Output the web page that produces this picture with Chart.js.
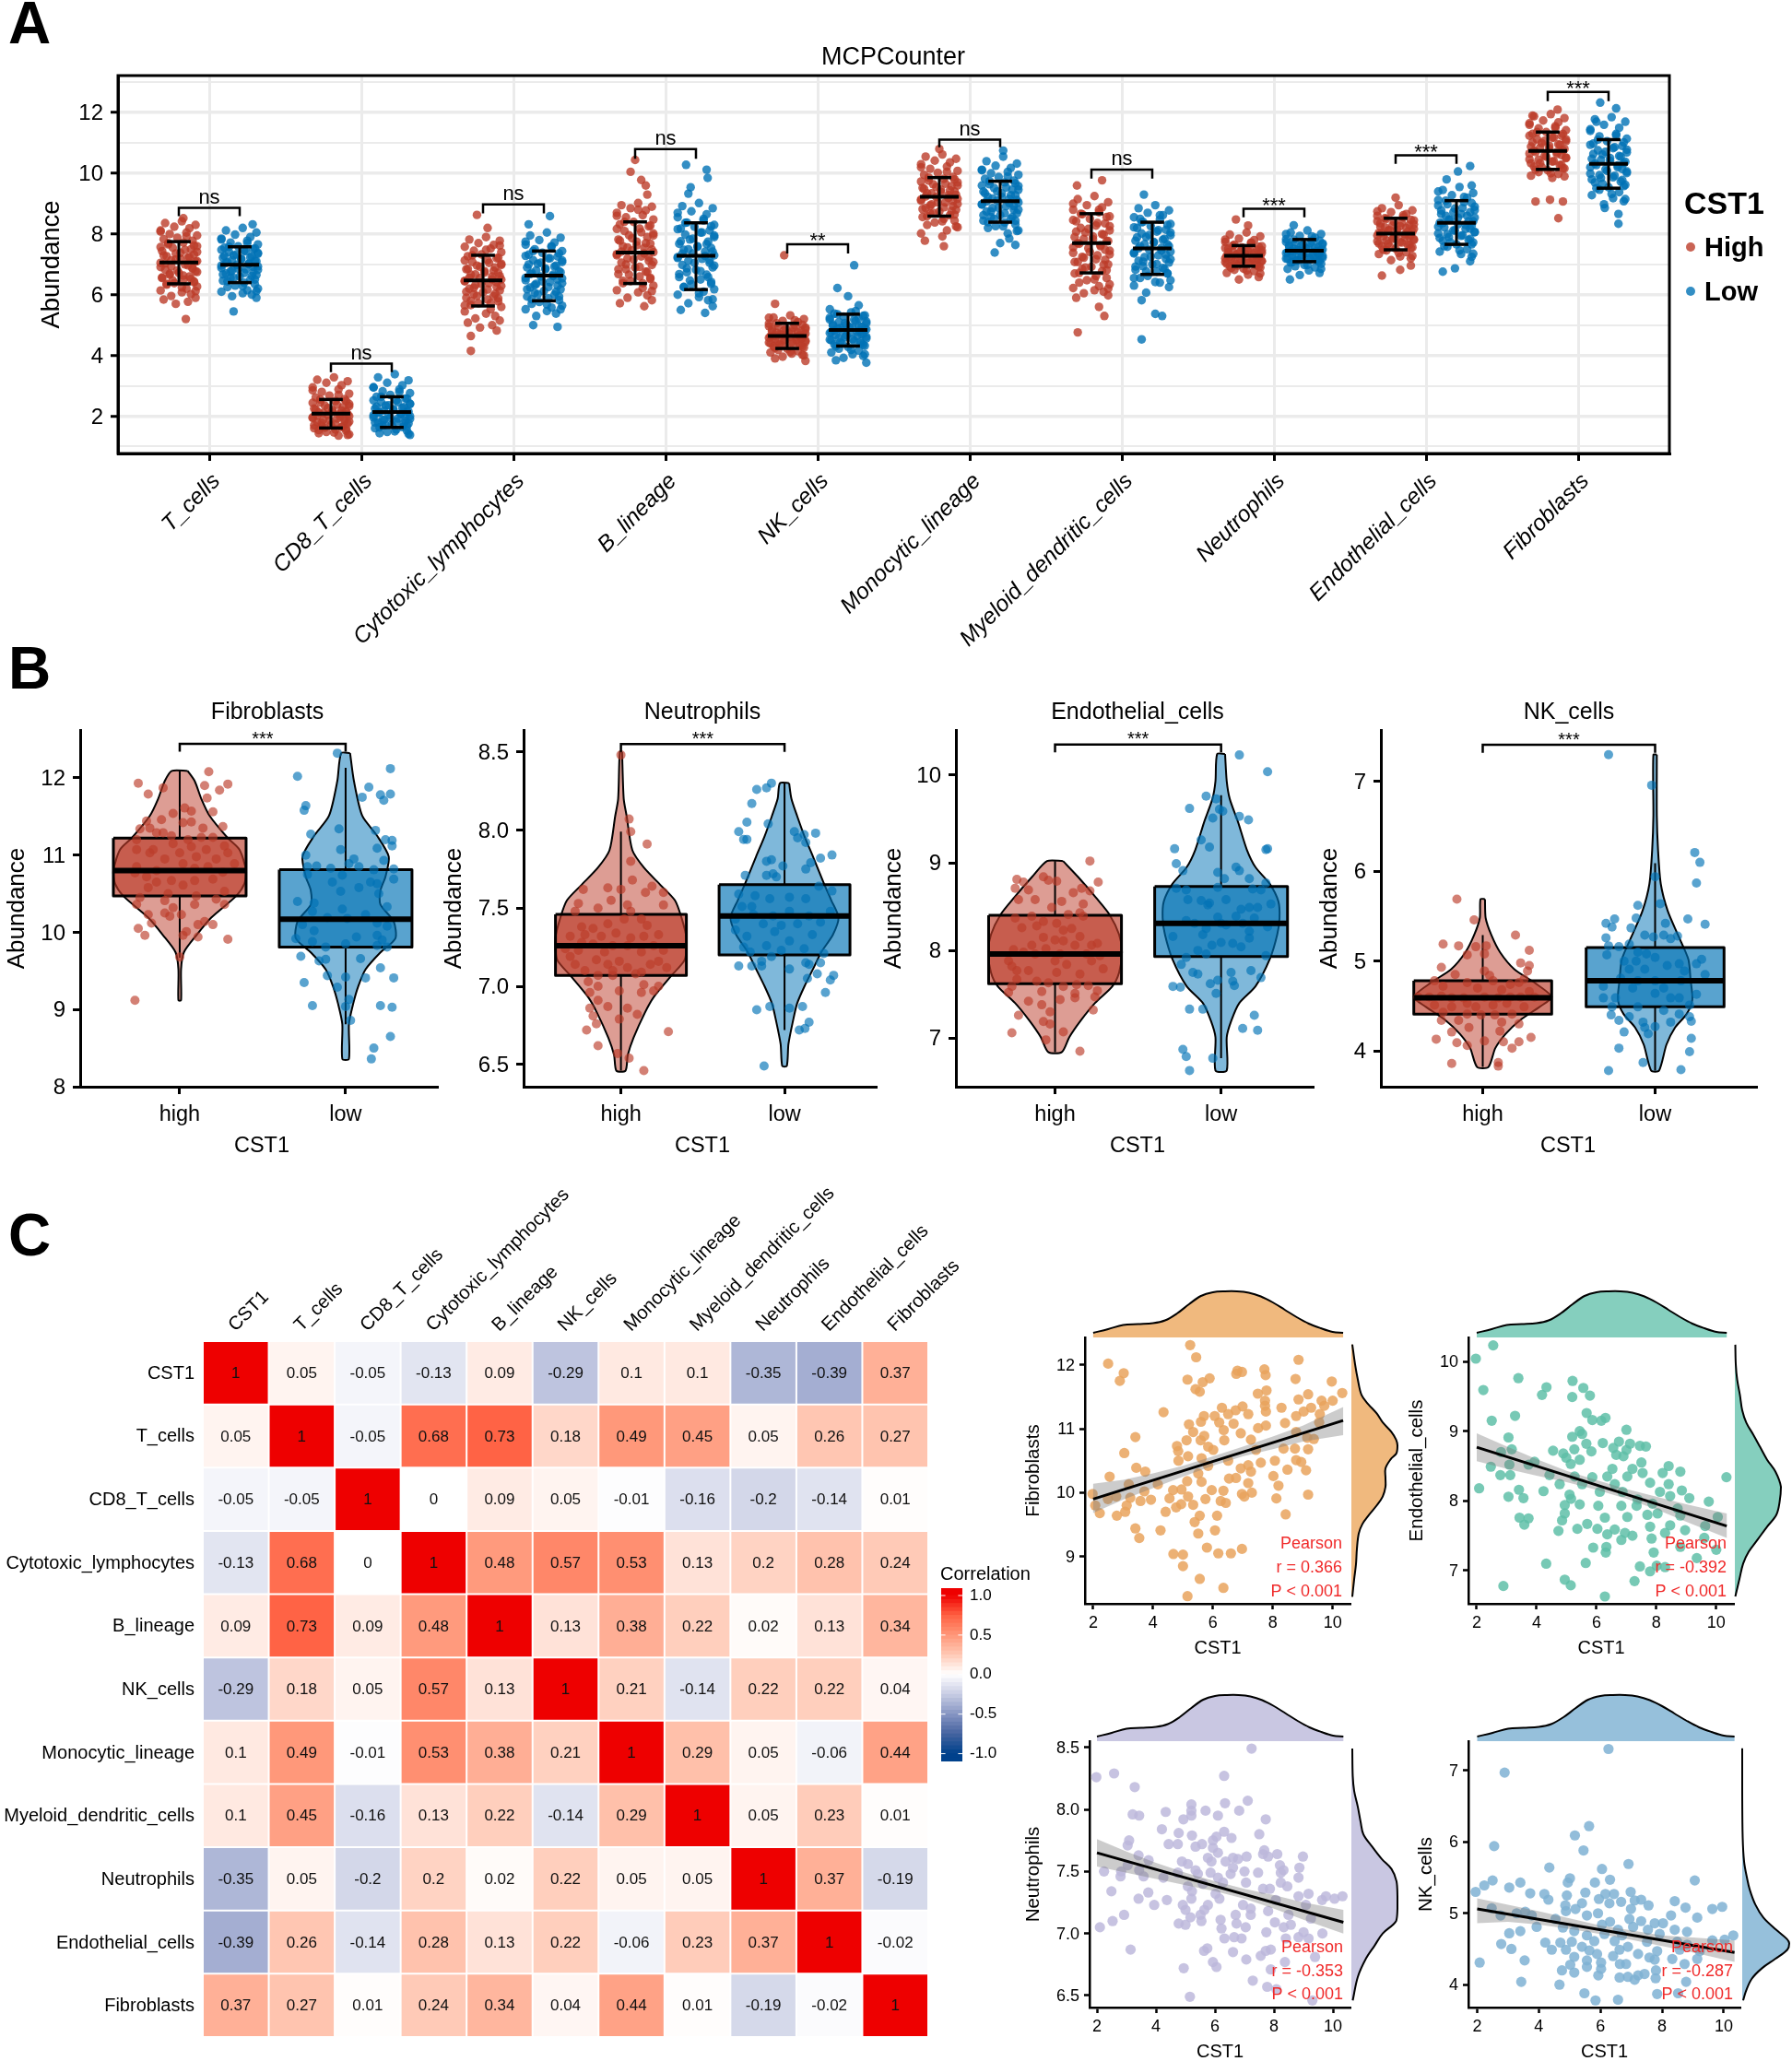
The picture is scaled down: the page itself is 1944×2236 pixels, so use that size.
<!DOCTYPE html>
<html><head><meta charset="utf-8">
<script src="https://cdn.jsdelivr.net/npm/chart.js@4/dist/chart.umd.js"></script>
<style>html,body{margin:0;background:#fff}#page{position:relative;width:1944px;height:2236px;overflow:hidden;background:#fff}
canvas{position:absolute;display:block}.tag{position:absolute;font:bold 64px "Liberation Sans",Arial,sans-serif;line-height:64px;color:#000}</style>
</head><body><div id="page"><div class="tag" style="left:9px;top:-7px">A</div><div class="tag" style="left:9px;top:693px">B</div><div class="tag" style="left:9px;top:1308px">C</div></div>
<script>
/* ---------- Panel A ---------- */
const cellTypes=['T_cells','CD8_T_cells','Cytotoxic_lymphocytes','B_lineage','NK_cells','Monocytic_lineage','Myeloid_dendritic_cells','Neutrophils','Endothelial_cells','Fibroblasts'];
const aHighMean=[7.06,2.08,6.47,7.39,4.64,9.23,7.70,7.28,8.01,10.74];
const aHighUpper=[7.75,2.55,7.30,8.40,5.06,9.86,8.67,7.62,8.52,11.36];
const aHighLower=[6.36,1.61,5.63,6.37,4.23,8.59,6.72,6.94,7.48,10.13];
const aLowMean=[6.99,2.14,6.63,7.28,4.84,9.08,7.53,7.45,8.37,10.31];
const aLowUpper=[7.58,2.64,7.44,8.37,5.36,9.74,8.39,7.82,9.10,11.11];
const aLowLower=[6.40,1.63,5.80,6.17,4.31,8.39,6.67,7.09,7.66,9.51];
const aBracketTop=[8.86,3.73,8.98,10.80,7.66,11.11,10.12,8.83,10.59,12.68];
const aBracketLeg=[8.59,3.45,8.68,10.48,7.36,10.86,9.83,8.55,10.31,12.38];
const aSig=['ns','ns','ns','ns','**','ns','ns','***','***','***'];
const aJitter=[.02,-.09,.11,-.03,.07,-.12,.05,-.06,.12,-.01,-.1,.09,.03,-.07,.12,-.04,.08,-.11,.01,.1,-.08,.06,-.02,.12,-.12,.04,-.05,.09,-.09,.11,0,-.06,.07,-.11,.03,.1,-.03,-.08,.12,.05,-.12,.02,.08,-.05,.11,-.1,.06,-.02,.09,-.07,.04,-.12,.1];
const aJitter2=[-.07,.1,-.12,.04,.12,-.02,-.1,.07,.01,-.05,.11,-.09,.06,-.12,.09,-.01,.12,-.06,.03,-.11,.08,-.04,.1,-.08,.05,-.12,.02,.11,-.03];
const aHighCore=[
[8.42,8.36,8.3,8.24,8.19,8.12,8.05,8,7.95,7.88,7.83,7.78,7.72,7.66,7.6,7.55,7.5,7.44,7.38,7.33,7.27,7.22,7.16,7.11,7.05,7,6.94,6.88,6.83,6.77,6.72,6.66,6.6,6.55,6.5,6.44,6.38,6.33,6.27,6.2,6.14,6.08,6.02,5.96,5.9,5.84,5.77,5.7],
[3.28,3.2,3.15,3.1,3.02,2.95,2.88,2.8,2.74,2.68,2.62,2.56,2.5,2.45,2.4,2.35,2.3,2.25,2.2,2.16,2.12,2.08,2.04,2,1.96,1.92,1.88,1.84,1.8,1.76,1.72,1.68,1.64,1.6,1.56,1.52,1.48,1.44,1.4,1.36],
[7.9,7.82,7.78,7.7,7.64,7.58,7.52,7.45,7.4,7.33,7.27,7.2,7.14,7.08,7.02,6.96,6.9,6.84,6.78,6.72,6.66,6.6,6.55,6.5,6.44,6.38,6.32,6.26,6.2,6.14,6.08,6.02,5.96,5.9,5.84,5.78,5.72,5.66,5.6,5.52,5.45,5.38,5.3,5.22,5.15,5.08,5,4.92,4.82],
[9.02,8.95,8.9,8.85,8.78,8.7,8.62,8.55,8.48,8.4,8.32,8.25,8.18,8.1,8.02,7.96,7.9,7.82,7.75,7.68,7.6,7.54,7.46,7.4,7.34,7.26,7.2,7.12,7.06,6.98,6.9,6.84,6.76,6.68,6.6,6.52,6.45,6.38,6.3,6.22,6.15,6.08,5.98,5.9,5.82,5.72,5.62],
[5.32,5.25,5.2,5.14,5.1,5.05,5,4.96,4.92,4.88,4.85,4.82,4.78,4.75,4.72,4.69,4.66,4.63,4.6,4.57,4.54,4.51,4.48,4.45,4.42,4.39,4.36,4.33,4.3,4.26,4.22,4.18,4.14,4.1,4.06,4.02,3.96,3.9,3.82],
[10.62,10.55,10.48,10.42,10.36,10.3,10.22,10.15,10.08,10.02,9.95,9.88,9.82,9.76,9.7,9.64,9.58,9.52,9.46,9.4,9.34,9.28,9.22,9.16,9.1,9.04,8.98,8.92,8.86,8.8,8.74,8.68,8.62,8.56,8.5,8.44,8.38,8.3,8.22,8.12,8.02,7.92],
[9.25,9.15,9.05,8.95,8.88,8.8,8.72,8.65,8.58,8.5,8.42,8.35,8.28,8.2,8.12,8.05,7.98,7.9,7.83,7.76,7.68,7.6,7.53,7.45,7.38,7.3,7.22,7.15,7.08,7,6.92,6.85,6.78,6.7,6.62,6.55,6.48,6.4,6.34,6.28,6.22,6.15,6.1,6.05,5.98,5.9],
[8.05,7.98,7.92,7.85,7.8,7.74,7.7,7.65,7.6,7.56,7.52,7.48,7.44,7.41,7.38,7.35,7.32,7.29,7.26,7.23,7.2,7.17,7.14,7.11,7.08,7.05,7.02,6.98,6.94,6.9,6.86,6.82,6.78,6.72,6.66,6.58,6.5],
[8.95,8.85,8.78,8.72,8.66,8.6,8.55,8.5,8.45,8.4,8.35,8.3,8.26,8.22,8.17,8.13,8.08,8.04,8,7.96,7.92,7.88,7.84,7.8,7.76,7.72,7.68,7.64,7.6,7.56,7.52,7.46,7.4,7.34,7.26,7.2,7.14],
[11.95,11.88,11.82,11.74,11.68,11.6,11.55,11.48,11.42,11.36,11.3,11.24,11.18,11.12,11.06,11,10.94,10.88,10.82,10.76,10.7,10.64,10.58,10.52,10.46,10.4,10.34,10.28,10.22,10.16,10.1,10.04,9.98,9.92,9.85]];
const aHighDense=[
[7.7,7.62,7.57,7.48,7.41,7.36,7.3,7.24,7.19,7.13,7.09,7.03,6.97,6.91,6.86,6.8,6.75,6.69,6.63,6.57,6.52,6.47,6.41,6.36,7.92,8.08,6.24,6.12],
[2.55,2.5,2.44,2.38,2.33,2.27,2.22,2.18,2.14,2.1,2.06,2.02,1.98,1.94,1.9,1.86,1.82,1.78,1.74,1.7,1.66,1.62,1.58,1.54,2.7,2.85,1.46,1.38],
[7.3,7.22,7.13,7.05,6.98,6.92,6.85,6.79,6.73,6.67,6.61,6.56,6.51,6.46,6.41,6.35,6.29,6.23,6.17,6.1,6.03,5.96,5.88,5.8,5.72,5.65,7.48,7.62],
[8.4,8.28,8.17,8.06,7.95,7.86,7.78,7.7,7.63,7.56,7.49,7.42,7.36,7.3,7.23,7.16,7.08,7,6.92,6.84,6.75,6.66,6.56,6.46,6.38,8.6,8.8,6.12],
[5.06,5.01,4.96,4.91,4.87,4.83,4.79,4.76,4.73,4.7,4.67,4.64,4.61,4.58,4.55,4.52,4.49,4.46,4.43,4.4,4.37,4.33,4.29,4.25,5.16,5.24,4.12,4],
[9.86,9.8,9.73,9.66,9.6,9.55,9.49,9.44,9.39,9.34,9.29,9.24,9.19,9.14,9.09,9.04,8.99,8.94,8.88,8.82,8.76,8.7,8.64,8.59,10.05,10.2,8.42,8.25],
[8.67,8.56,8.46,8.36,8.26,8.17,8.08,8,7.92,7.84,7.77,7.7,7.63,7.56,7.48,7.41,7.33,7.25,7.17,7.08,6.99,6.9,6.81,6.72,8.8,9,6.5,6.2],
[7.62,7.58,7.54,7.5,7.46,7.43,7.4,7.37,7.34,7.31,7.28,7.25,7.22,7.2,7.17,7.14,7.11,7.08,7.05,7.02,6.99,6.96,6.93,6.88,7.72,7.82,6.8,6.7],
[8.52,8.47,8.42,8.37,8.32,8.28,8.24,8.2,8.15,8.11,8.07,8.03,7.99,7.95,7.91,7.87,7.83,7.79,7.74,7.69,7.64,7.59,7.54,7.48,8.62,8.75,7.38,7.28],
[11.36,11.3,11.24,11.18,11.12,11.07,11.02,10.96,10.91,10.85,10.8,10.75,10.7,10.65,10.6,10.55,10.5,10.45,10.39,10.33,10.27,10.21,10.16,10.12,11.5,11.65,10,9.9]];
const aLowCore=[
[8.2,8.12,8.05,7.98,7.9,7.85,7.78,7.72,7.66,7.6,7.55,7.5,7.45,7.4,7.35,7.3,7.26,7.22,7.17,7.12,7.07,7.03,6.98,6.93,6.88,6.84,6.8,6.75,6.7,6.65,6.6,6.55,6.5,6.46,6.4,6.35,6.3,6.25,6.2,6.15,6.1,6.05,6,5.95,5.9],
[3.38,3.28,3.18,3.1,3.02,2.95,2.88,2.82,2.76,2.7,2.64,2.58,2.52,2.46,2.4,2.35,2.3,2.25,2.2,2.16,2.12,2.08,2.04,2,1.96,1.92,1.88,1.84,1.8,1.76,1.72,1.68,1.64,1.6,1.56,1.52,1.48,1.44,1.38],
[8.05,7.95,7.88,7.8,7.72,7.65,7.58,7.5,7.44,7.38,7.32,7.26,7.2,7.14,7.08,7.02,6.96,6.9,6.84,6.78,6.72,6.66,6.6,6.54,6.48,6.42,6.36,6.3,6.24,6.18,6.12,6.06,6,5.94,5.88,5.82,5.76,5.7,5.64,5.58,5.52,5.46,5.38,5.3],
[9.02,8.92,8.85,8.75,8.65,8.55,8.45,8.38,8.3,8.24,8.18,8.12,8.05,7.98,7.9,7.82,7.75,7.68,7.6,7.54,7.48,7.42,7.36,7.3,7.24,7.18,7.12,7.05,6.98,6.9,6.82,6.74,6.66,6.58,6.5,6.42,6.34,6.26,6.18,6.1,6,5.92,5.82,5.72,5.62,5.5,5.4],
[5.42,5.38,5.32,5.28,5.22,5.18,5.14,5.1,5.06,5.02,4.98,4.95,4.92,4.89,4.86,4.83,4.8,4.77,4.74,4.71,4.68,4.64,4.6,4.56,4.52,4.48,4.44,4.4,4.36,4.32,4.28,4.22,4.16,4.1,4.04,3.98,3.92,3.84,3.76],
[10.55,10.4,10.32,10.25,10.18,10.12,10.05,10,9.95,9.88,9.82,9.76,9.7,9.64,9.58,9.52,9.46,9.4,9.34,9.28,9.22,9.16,9.1,9.04,8.98,8.92,8.86,8.8,8.74,8.68,8.62,8.56,8.5,8.44,8.38,8.32,8.26,8.2,8.12,8.02],
[8.95,8.85,8.78,8.7,8.62,8.55,8.48,8.4,8.33,8.26,8.2,8.14,8.08,8.02,7.96,7.9,7.84,7.78,7.72,7.66,7.6,7.54,7.48,7.42,7.36,7.3,7.24,7.18,7.12,7.06,7,6.94,6.88,6.82,6.76,6.7,6.62,6.55,6.48,6.4,6.3],
[8.12,8.05,8,7.94,7.88,7.83,7.78,7.73,7.69,7.65,7.62,7.58,7.55,7.52,7.49,7.46,7.43,7.4,7.37,7.34,7.31,7.28,7.25,7.22,7.19,7.16,7.13,7.1,7.06,7.02,6.98,6.94,6.9,6.85,6.8,6.72,6.65],
[9.55,9.45,9.35,9.28,9.2,9.12,9.05,8.98,8.9,8.84,8.78,8.72,8.66,8.6,8.54,8.48,8.42,8.37,8.32,8.27,8.22,8.17,8.12,8.07,8.02,7.96,7.9,7.84,7.78,7.72,7.66,7.58,7.5,7.42,7.34,7.25],
[11.85,11.78,11.7,11.6,11.5,11.4,11.3,11.22,11.14,11.06,10.98,10.9,10.83,10.76,10.69,10.62,10.55,10.48,10.41,10.34,10.27,10.2,10.13,10.06,9.99,9.92,9.85,9.78,9.7,9.62,9.54,9.46,9.38,9.28,9.18,9.08,8.98]];
const aLowDense=[
[7.58,7.53,7.48,7.43,7.38,7.33,7.28,7.23,7.19,7.14,7.1,7.05,7.01,6.96,6.91,6.86,6.82,6.77,6.72,6.67,6.62,6.56,6.5,6.44,7.7,7.82,6.28,6.12],
[2.64,2.58,2.52,2.46,2.41,2.36,2.31,2.27,2.23,2.19,2.15,2.11,2.07,2.03,1.99,1.95,1.91,1.87,1.83,1.79,1.75,1.71,1.67,1.63,2.8,2.95,1.5,1.42],
[7.44,7.36,7.28,7.2,7.13,7.06,7,6.93,6.87,6.8,6.74,6.68,6.62,6.56,6.5,6.44,6.38,6.32,6.25,6.18,6.1,6.02,5.94,5.85,7.6,7.75,5.68,5.52],
[8.37,8.26,8.16,8.05,7.95,7.85,7.76,7.67,7.58,7.5,7.42,7.35,7.28,7.21,7.13,7.05,6.96,6.87,6.78,6.68,6.58,6.47,6.36,6.25,8.5,8.7,6.05,5.85],
[5.36,5.3,5.24,5.18,5.12,5.07,5.02,4.98,4.94,4.9,4.86,4.82,4.78,4.74,4.7,4.66,4.62,4.58,4.54,4.5,4.45,4.4,4.35,4.3,5.46,5.52,4.18,4.04],
[9.74,9.67,9.6,9.53,9.46,9.4,9.34,9.28,9.22,9.17,9.12,9.07,9.02,8.97,8.92,8.86,8.8,8.74,8.68,8.62,8.56,8.5,8.44,8.39,9.9,10.1,8.25,8.1],
[8.39,8.3,8.22,8.13,8.05,7.97,7.89,7.81,7.74,7.67,7.6,7.53,7.46,7.39,7.32,7.25,7.17,7.09,7.01,6.93,6.85,6.77,6.7,8.5,8.62,6.55,6.42,6.25],
[7.82,7.78,7.74,7.7,7.66,7.62,7.58,7.55,7.52,7.49,7.46,7.43,7.4,7.37,7.34,7.31,7.28,7.25,7.22,7.19,7.16,7.13,7.1,7.07,7.92,8,6.98,6.85],
[9.1,9.02,8.94,8.86,8.79,8.72,8.66,8.6,8.54,8.48,8.42,8.36,8.3,8.24,8.18,8.12,8.06,8,7.94,7.87,7.8,7.73,7.66,7.6,9.22,9.4,7.46,7.35],
[11.11,11.02,10.94,10.86,10.78,10.71,10.64,10.57,10.5,10.44,10.38,10.32,10.26,10.2,10.14,10.08,10.01,9.94,9.87,9.8,9.73,9.66,9.58,9.51,11.25,11.45,9.32,9.15]];
/* outliers read individually: [category, 0 high / 1 low, dodge offset, value] */
const aOutliers=[[0,0,.046,5.2],[0,0,.03,8.52],[0,1,-.04,5.45],[0,1,.085,8.32],[2,0,-.04,8.63],[2,0,.03,8.2],[2,0,-.08,4.15],[2,0,-.08,4.64],[2,1,.04,8.59],[2,1,-.1,8.32],[2,1,.09,4.94],[2,1,-.07,5],[3,0,0,10.44],[3,0,-.03,10.05],[3,0,.04,9.78],[3,0,.07,9.6],[3,0,.08,9.3],[3,1,-.065,10.28],[3,1,.07,10.12],[3,1,.077,9.85],[3,1,-.035,9.54],[3,1,-.05,9.33],[4,0,-.02,7.3],[4,0,-.08,5.7],[4,1,.04,6.97],[4,1,-.07,6.22],[4,1,0,5.95],[4,1,.07,5.65],[5,0,-.095,7.78],[5,0,.03,7.6],[5,0,0,10.8],[5,1,.02,10.75],[5,1,-.036,7.39],[5,1,.1,7.64],[5,1,0,7.7],[5,1,.06,7.85],[6,0,-.095,9.6],[6,0,.07,9.77],[6,0,.05,5.6],[6,0,.085,5.3],[6,0,-.09,4.76],[6,1,-.055,9.3],[6,1,-.07,4.53],[6,1,.02,5.37],[6,1,.065,5.3],[6,1,-.07,5.82],[6,1,-.04,6.07],[7,0,-.05,8.48],[7,0,.03,8.28],[7,1,-.095,6.5],[7,1,-.07,8.29],[8,0,0,9.2],[8,0,-.09,6.63],[8,0,.1,6.96],[8,0,.03,6.82],[8,1,.09,10.24],[8,1,.01,10.06],[8,1,.1,9.6],[8,1,-.065,9.8],[8,1,-.09,6.76],[8,1,.09,7.1],[8,1,-.01,6.87],[9,0,.065,12.1],[9,0,-.1,11.9],[9,0,-.08,9.07],[9,0,.015,9.13],[9,0,.1,9.07],[9,0,.07,8.52],[9,1,-.055,12.33],[9,1,.05,12.14],[9,1,.065,8.34],[9,1,.065,8.66],[9,1,-.025,8.86],[9,1,-.08,11.7]];
const aYTicks=[1,2,3,4,5,6,7,8,9,10,11,12,13];

/* ---------- Panel B ---------- */
const groupLabels=['high','low'];
/* violin outlines: [value, half width] */
const vFibHigh=[[12.09,.048],[11.96,.09],[11.73,.13],[11.51,.18],[11.22,.29],[11.07,.36],[10.8,.4],[10.63,.39],[10.47,.34],[10.19,.19],[9.96,.1],[9.74,.025],[9.52,.008],[9.12,.008]];
const vFibLow=[[12.32,.027],[11.96,.05],[11.51,.1],[11.25,.19],[10.98,.26],[10.72,.24],[10.54,.21],[10.36,.21],[10.14,.29],[9.92,.3],[9.74,.21],[9.52,.12],[9.3,.076],[9.07,.045],[8.81,.02],[8.36,.02]];
const vNeuHigh=[[8.5,.007],[8.2,.017],[8.09,.035],[7.87,.07],[7.76,.14],[7.65,.24],[7.55,.33],[7.44,.37],[7.31,.4],[7.17,.39],[7.07,.31],[6.93,.2],[6.83,.146],[6.67,.077],[6.56,.042],[6.46,.028]];
const vNeuLow=[[8.3,.028],[8.2,.042],[8.09,.077],[7.96,.122],[7.83,.174],[7.65,.244],[7.55,.286],[7.44,.33],[7.33,.296],[7.22,.226],[7.11,.174],[7,.122],[6.89,.077],[6.78,.052],[6.63,.024],[6.49,.014]];
const vEndHigh=[[9.02,.048],[8.84,.138],[8.6,.248],[8.41,.328],[8.18,.386],[7.98,.403],[7.75,.386],[7.59,.345],[7.4,.241],[7.2,.155],[7.01,.086],[6.84,.041]];
const vEndLow=[[10.24,.024],[9.93,.034],[9.73,.052],[9.46,.103],[9.15,.155],[8.95,.207],[8.76,.293],[8.56,.345],[8.37,.352],[8.18,.338],[7.9,.293],[7.59,.207],[7.4,.11],[7.2,.062],[7.01,.034],[6.63,.034]];
const vNkHigh=[[5.69,.013],[5.48,.017],[5.29,.05],[5.1,.1],[4.91,.183],[4.76,.3],[4.6,.4],[4.49,.33],[4.34,.216],[4.19,.133],[4.03,.073],[3.82,.033]];
const vNkLow=[[7.3,.01],[6.62,.01],[6.24,.017],[5.86,.033],[5.56,.073],[5.29,.133],[5.02,.193],[4.79,.206],[4.57,.216],[4.41,.183],[4.26,.116],[4.07,.066],[3.78,.023]];
/* box stats: q3, median, q1, whisker top, whisker bottom */
const bxFib=[[11.22,10.8,10.47,12.09,9.67],[10.81,10.17,9.81,12.13,8.81]];
const bxNeu=[[7.46,7.26,7.07,7.99,6.46],[7.65,7.45,7.2,8.3,6.72]];
const bxEnd=[[8.4,7.96,7.62,9.02,6.84],[8.73,8.31,7.93,9.77,6.77]];
const bxNk=[[4.78,4.59,4.41,5.29,3.82],[5.15,4.78,4.49,6.09,3.78]];
/* jittered samples: [offset, value] */
const ptFibHigh=[[.175,12.08],[-.25,11.93],[-.19,11.79],[-.1,11.87],[.15,11.9],[.29,11.92],[.24,11.84],[.165,11.74],[.2,11.56],[.03,11.61],[.07,11.57],[-.04,11.54],[-.11,11.46],[-.2,11.44],[.02,11.42],[.07,11.43],[.26,11.37],[-.24,11.34],[-.18,11.35],[-.14,11.29],[-.1,11.29],[-.05,11.25],[.14,11.35],[-.26,11.2],[.13,11.23],[.2,11.23],[.05,11.2],[-.04,11.15],[.27,11.12],[-.26,11.07],[-.16,11.07],[.07,11.11],[.16,11.07],[.29,11.03],[0,11.03],[-.18,11.03],[-.09,10.95],[.22,10.95],[.1,10.98],[.33,10.89],[-.26,10.85],[.02,10.89],[.17,10.85],[-.14,10.8],[.09,10.83],[.26,10.78],[-.27,10.77],[-.2,10.72],[-.05,10.67],[.09,10.67],[.2,10.69],[-.14,10.65],[-.19,10.58],[.02,10.61],[.27,10.53],[-.07,10.5],[.1,10.47],[-.24,10.45],[.22,10.43],[-.09,10.41],[.27,10.36],[-.26,10.36],[.09,10.36],[-.04,10.32],[-.19,10.23],[-.09,10.25],[-.06,10.21],[.01,10.23],[-.17,10.12],[.11,10.1],[.15,10.14],[.2,10.1],[-.25,10.05],[-.21,9.96],[.04,10.01],[.02,9.96],[.11,9.94],[.29,9.91],[0,9.68],[-.27,9.12]];
const ptFibLow=[[-.05,12.32],[.27,12.12],[-.29,12.02],[.14,11.88],[.1,11.75],[.27,11.79],[.21,11.78],[.23,11.71],[-.24,11.64],[-.25,11.58],[-.04,11.34],[-.21,11.27],[.18,11.32],[.24,11.2],[.28,11.19],[.28,11.12],[.19,11.09],[-.03,11.07],[-.24,11],[.05,10.95],[.23,10.93],[.02,10.89],[.08,10.85],[-.23,10.85],[-.175,10.86],[.17,10.81],[.29,10.82],[-.09,10.83],[-.23,10.75],[-.02,10.74],[.29,10.69],[.15,10.65],[.19,10.63],[-.08,10.65],[.08,10.58],[-.03,10.53],[.2,10.5],[-.29,10.4],[-.19,10.38],[-.02,10.3],[.25,10.33],[.12,10.23],[-.2,10.27],[-.11,10.19],[.01,10.18],[.19,10.12],[-.26,10.1],[.25,10.08],[-.19,10.02],[.065,9.94],[.19,9.96],[-.3,9.92],[.22,9.9],[-.2,9.88],[-.12,9.81],[.19,9.83],[.25,9.81],[0,9.85],[-.27,9.69],[-.16,9.63],[-.12,9.65],[.09,9.66],[.21,9.54],[.29,9.41],[.12,9.41],[0,9.42],[-.11,9.44],[-.25,9.35],[-.05,9.29],[.02,9.13],[-.2,9.05],[0,9.04],[.21,9.05],[.28,9.03],[.03,8.86],[.27,8.65],[.17,8.5],[.155,8.36]];
const ptNeuHigh=[[0,8.48],[.05,8.07],[.06,7.99],[.16,7.91],[.06,7.8],[-.23,7.62],[-.08,7.63],[.07,7.68],[.19,7.64],[.26,7.6],[.15,7.6],[0,7.62],[-.06,7.55],[-.26,7.53],[.26,7.52],[.04,7.52],[-.14,7.5],[-.28,7.48],[.06,7.48],[.02,7.43],[.125,7.43],[-.24,7.38],[-.17,7.37],[-.08,7.4],[.16,7.39],[.23,7.33],[-.03,7.34],[-.31,7.32],[-.22,7.33],[-.12,7.32],[.06,7.31],[.14,7.32],[-.24,7.28],[-.17,7.27],[-.05,7.26],[.04,7.26],[.2,7.26],[.26,7.23],[-.34,7.24],[-.26,7.23],[-.1,7.22],[.125,7.22],[-.31,7.19],[-.15,7.17],[-.01,7.16],[.23,7.16],[-.28,7.14],[-.08,7.14],[.18,7.14],[.04,7.12],[.28,7.12],[-.22,7.1],[-.05,7.1],[.125,7.09],[-.14,7.07],[.09,7.08],[-.2,7.03],[-.05,7.07],[-.14,7],[.14,7.01],[.23,7],[-.01,6.97],[-.19,6.96],[.125,6.96],[.2,6.97],[-.14,6.91],[-.08,6.87],[-.19,6.86],[.04,6.86],[-.17,6.81],[.1,6.82],[-.01,6.79],[-.15,6.76],[-.21,6.72],[.29,6.71],[-.14,6.62],[-.02,6.57],[.05,6.54],[.14,6.46]];
const ptNeuLow=[[-.08,8.3],[-.11,8.27],[-.17,8.26],[-.2,8.17],[-.23,8.05],[-.1,8.04],[-.28,7.99],[.06,7.99],[.19,7.98],[.12,7.97],[.08,7.95],[-.25,7.94],[-.23,7.94],[.13,7.92],[.29,7.84],[.22,7.82],[-.08,7.81],[-.11,7.8],[-.01,7.77],[.13,7.75],[.16,7.79],[-.24,7.71],[-.07,7.72],[-.11,7.71],[-.05,7.7],[.21,7.64],[.29,7.61],[-.28,7.59],[-.18,7.58],[.03,7.57],[-.26,7.51],[-.2,7.51],[-.09,7.56],[.13,7.56],[-.19,7.46],[-.07,7.45],[.03,7.48],[.15,7.45],[.28,7.48],[-.3,7.43],[.22,7.41],[-.13,7.4],[-.02,7.39],[.08,7.4],[-.3,7.36],[-.23,7.32],[-.06,7.35],[.17,7.33],[.03,7.29],[-.25,7.25],[-.11,7.26],[.12,7.24],[-.02,7.23],[-.21,7.22],[.24,7.21],[-.08,7.19],[-.14,7.16],[.13,7.15],[.15,7.14],[-.28,7.13],[-.2,7.13],[-.14,7.13],[.03,7.11],[.22,7.15],[.2,7.08],[.14,7.05],[.3,7.07],[.28,7.04],[.25,6.96],[-.09,6.87],[-.17,6.85],[.03,6.86],[.11,6.87],[.15,6.77],[.125,6.73],[.09,6.72],[-.125,6.49]];
const ptEndHigh=[[.21,9.02],[-.23,8.81],[-.07,8.84],[.01,8.79],[.26,8.78],[-.19,8.78],[-.04,8.8],[-.24,8.71],[-.16,8.69],[.16,8.71],[.21,8.68],[.11,8.66],[-.12,8.58],[-.22,8.58],[.04,8.56],[.17,8.53],[-.02,8.49],[.15,8.43],[-.14,8.39],[.08,8.41],[-.24,8.37],[.17,8.39],[-.07,8.33],[-.11,8.28],[.01,8.31],[-.2,8.26],[.1,8.25],[.05,8.23],[.15,8.16],[-.07,8.15],[0,8.12],[.05,8.11],[-.14,8.06],[.12,8.06],[-.25,8.01],[-.055,8.02],[.22,8.06],[.255,8.08],[-.19,7.98],[-.12,7.96],[.03,7.96],[.19,7.96],[.27,7.94],[-.28,7.88],[0,7.88],[.22,7.88],[-.26,7.82],[.07,7.84],[.29,7.79],[-.23,7.77],[-.16,7.77],[.01,7.75],[.15,7.73],[-.11,7.65],[-.23,7.67],[-.04,7.63],[.13,7.61],[.2,7.6],[-.26,7.59],[.05,7.59],[.255,7.54],[.12,7.51],[-.28,7.52],[-.08,7.53],[.24,7.47],[-.16,7.42],[.12,7.46],[.03,7.44],[-.08,7.38],[-.03,7.3],[.23,7.32],[-.22,7.26],[-.07,7.19],[-.03,7.16],[.05,7.07],[-.26,7.06],[-.055,6.98],[.15,6.85]];
const ptEndLow=[[.11,10.23],[.28,10.04],[-.09,9.76],[-.03,9.73],[-.19,9.62],[-.01,9.61],[.01,9.59],[-.05,9.51],[.11,9.53],[.165,9.49],[-.12,9.26],[-.07,9.18],[-.28,9.16],[.27,9.15],[.28,9.16],[-.27,8.99],[.09,8.95],[.11,8.91],[-.23,8.91],[-.02,8.89],[.02,8.82],[.17,8.82],[.27,8.77],[-.02,8.72],[-.27,8.71],[-.21,8.69],[.19,8.7],[.24,8.69],[-.2,8.58],[-.12,8.57],[-.07,8.54],[.03,8.58],[.3,8.53],[.12,8.47],[.17,8.49],[.22,8.49],[-.08,8.52],[.09,8.39],[-.02,8.38],[-.21,8.34],[-.16,8.31],[0,8.31],[.13,8.31],[.28,8.27],[.2,8.37],[.03,8.29],[-.09,8.25],[.17,8.22],[-.29,8.16],[-.11,8.18],[.17,8.14],[0,8.09],[.07,8.08],[-.055,8.06],[.12,8.04],[-.14,8],[-.09,7.96],[-.21,7.92],[.27,7.94],[-.24,7.84],[-.17,7.75],[-.14,7.73],[.06,7.75],[.18,7.77],[.24,7.69],[-.02,7.66],[.07,7.65],[-.065,7.62],[.08,7.6],[-.29,7.59],[-.245,7.58],[-.03,7.51],[-.19,7.33],[-.11,7.33],[.2,7.26],[.13,7.11],[.22,7.09],[-.23,6.87],[-.21,6.79],[-.05,6.77],[-.19,6.63]];
const ptNkHigh=[[-.15,5.69],[-.05,5.46],[.19,5.29],[-.23,5.19],[-.14,5.17],[-.04,5.16],[.02,5.17],[.27,5.12],[-.09,5.07],[.01,5.08],[.22,4.98],[.27,4.95],[-.24,4.93],[.01,4.89],[.26,4.89],[.04,4.84],[-.16,4.85],[.24,4.8],[-.28,4.78],[.06,4.78],[-.09,4.76],[.16,4.74],[.21,4.76],[-.23,4.72],[-.03,4.7],[.11,4.68],[.27,4.66],[-.375,4.6],[-.31,4.6],[-.24,4.61],[-.18,4.59],[-.11,4.59],[.01,4.6],[.09,4.59],[.16,4.6],[.22,4.6],[.3,4.6],[-.28,4.51],[-.18,4.49],[-.09,4.53],[-.04,4.49],[.06,4.51],[.14,4.53],[.24,4.49],[-.23,4.43],[-.09,4.41],[-.01,4.4],[.07,4.4],[.17,4.41],[-.24,4.34],[-.14,4.34],[.11,4.32],[.21,4.3],[-.18,4.21],[-.08,4.26],[.1,4.22],[-.27,4.13],[.28,4.15],[.01,4.11],[-.15,4.09],[.12,4.1],[.21,4.1],[-.09,4.06],[.17,4.03],[-.18,3.86],[.09,3.87],[.09,3.83]];
const ptNkLow=[[-.27,7.3],[-.02,6.96],[.23,6.21],[.26,6.1],[.24,5.87],[0,5.94],[-.1,5.62],[.03,5.64],[-.235,5.47],[-.285,5.42],[-.25,5.38],[-.11,5.48],[.19,5.47],[.29,5.41],[.06,5.42],[-.14,5.37],[-.06,5.29],[-.01,5.27],[.05,5.29],[.13,5.28],[.09,5.25],[-.285,5.26],[-.27,5.17],[-.21,5.16],[-.15,5.19],[-.28,5.07],[-.18,5],[-.1,5.1],[-.05,5.08],[0,5.04],[.27,5.02],[-.11,5],[.24,4.97],[.14,4.97],[.07,4.95],[-.15,4.91],[-.06,4.91],[.17,4.89],[.29,4.85],[-.2,4.81],[-.1,4.78],[0,4.78],[.15,4.78],[-.3,4.72],[-.13,4.7],[.05,4.7],[-.3,4.59],[-.23,4.59],[0,4.64],[.14,4.59],[.24,4.63],[.09,4.59],[-.25,4.49],[-.1,4.49],[.2,4.51],[-.255,4.4],[-.15,4.38],[.05,4.45],[.14,4.41],[.2,4.38],[-.21,4.34],[-.07,4.32],[.09,4.32],[.21,4.33],[-.06,4.26],[0,4.27],[-.18,4.21],[-.04,4.19],[.21,4.14],[-.21,4.03],[.2,3.99],[-.07,3.87],[-.27,3.78],[.15,3.79]];

/* ---------- Panel C heatmap ---------- */
const heatLabels=['CST1','T_cells','CD8_T_cells','Cytotoxic_lymphocytes','B_lineage','NK_cells','Monocytic_lineage','Myeloid_dendritic_cells','Neutrophils','Endothelial_cells','Fibroblasts'];
const corr=[
[1,.05,-.05,-.13,.09,-.29,.1,.1,-.35,-.39,.37],
[.05,1,-.05,.68,.73,.18,.49,.45,.05,.26,.27],
[-.05,-.05,1,0,.09,.05,-.01,-.16,-.2,-.14,.01],
[-.13,.68,0,1,.48,.57,.53,.13,.2,.28,.24],
[.09,.73,.09,.48,1,.13,.38,.22,.02,.13,.34],
[-.29,.18,.05,.57,.13,1,.21,-.14,.22,.22,.04],
[.1,.49,-.01,.53,.38,.21,1,.29,.05,-.06,.44],
[.1,.45,-.16,.13,.22,-.14,.29,1,.05,.23,.01],
[-.35,.05,-.2,.2,.02,.22,.05,.05,1,.37,-.19],
[-.39,.26,-.14,.28,.13,.22,-.06,.23,.37,1,-.02],
[.37,.27,.01,.24,.34,.04,.44,.01,-.19,-.02,1]];
const rampValues=[-1,-.75,-.5,-.25,0,.25,.5,.75,1];
const rampColors=[[0,65,140],[70,100,160],[135,150,195],[200,205,228],[255,255,255],[255,200,180],[255,150,120],[255,95,65],[238,0,0]];
const legendLevels=[-1.1,-1.05,-1,-.95,-.9,-.85,-.8,-.75,-.7,-.65,-.6,-.55,-.5,-.45,-.4,-.35,-.3,-.25,-.2,-.15,-.1,-.05,0,.05,.1,.15,.2,.25,.3,.35,.4,.45,.5,.55,.6,.65,.7,.75,.8,.85,.9,.95,1,1.05];
const legendTicks=[-1,-.5,0,.5,1];

/* ---------- Panel C scatter ---------- */
const densX=[2,2.5,3,3.5,4,4.4,4.8,5.2,5.6,6,6.4,6.8,7.2,7.6,8,8.4,8.8,9.2,9.6,10,10.35];
const densCST1=[.1,.18,.27,.29,.31,.37,.52,.72,.9,.98,1,1,.97,.89,.76,.6,.44,.3,.2,.12,.1];
const sFib=[[2.5,12.02],[3.02,11.87],[2.89,11.75],[5.24,12.31],[5.44,12.12],[5.15,11.77],[5.89,11.79],[5.66,11.73],[5.42,11.62],[5.56,11.58],[6.82,11.91],[6.97,11.89],[6.78,11.86],[8.86,12.08],[7.72,11.93],[7.76,11.84],[8.76,11.78],[9.97,11.74],[10.32,11.56],[7.79,11.6],[7.5,11.55],[9.18,11.54],[8.86,11.46],[10,11.44],[9.63,11.44],[9.72,11.36],[7.74,11.44],[7.74,11.36],[7.77,11.27],[6.3,11.33],[8.29,11.33],[9.28,11.33],[9.03,11.27],[6.99,11.35],[6.76,11.29],[4.35,11.26],[7.18,11.23],[6.51,11.23],[5.7,11.2],[6.06,11.2],[8.78,11.2],[9.57,11.23],[5.6,11.11],[6.21,11.1],[5.2,11.07],[6.69,11.08],[7.77,11.05],[7.51,11.01],[8.41,11.09],[9.55,11.1],[5.34,10.95],[6.36,10.98],[6.93,10.93],[3.41,10.87],[5.71,10.89],[8.78,10.95],[9.15,10.86],[9.37,10.84],[5.59,10.82],[5.12,10.82],[4.8,10.73],[7.27,10.83],[6.38,10.82],[5.84,10.72],[4.84,10.65],[3.04,10.62],[6.01,10.67],[7.44,10.67],[8.36,10.69],[8.74,10.69],[9.18,10.68],[5.17,10.57],[5.62,10.54],[6.51,10.5],[4.85,10.5],[7.6,10.47],[8.07,10.5],[8.78,10.51],[8.95,10.48],[3.44,10.39],[5.84,10.42],[6.93,10.38],[7.18,10.43],[8.49,10.36],[9.11,10.35],[3.74,10.33],[5.51,10.3],[7.27,10.33],[2.55,10.25],[6.54,10.22],[6.77,10.23],[8.02,10.26],[5.14,10.18],[5.62,10.17],[3.19,10.13],[4.16,10.13],[7.18,10.15],[8.19,10.11],[4.67,10.04],[4.95,10.05],[3.71,10.02],[1.98,9.98],[6.35,10.03],[5.96,10.04],[6.97,9.98],[7.3,10],[9.18,9.97],[2.49,9.9],[2.77,9.94],[3.24,9.92],[3.93,9.89],[3.58,9.87],[4.55,9.91],[5.75,9.9],[5.17,9.94],[6.26,9.87],[7.05,9.94],[8.12,9.91],[2.07,9.8],[4.94,9.82],[4.77,9.77],[5.34,9.81],[6.43,9.84],[3.12,9.8],[2.22,9.68],[4.42,9.7],[3.07,9.7],[2.79,9.64],[5.56,9.64],[6.14,9.64],[8.43,9.66],[5.39,9.54],[3.41,9.44],[4.25,9.41],[6.07,9.41],[5.51,9.36],[3.54,9.29],[5.8,9.14],[6.97,9.12],[6.18,9.05],[6.6,9.05],[4.68,9.04],[5,9.03],[5,8.85],[5.56,8.65],[6.35,8.51],[5.15,8.38]];
const sEnd=[[1.97,10.04],[2.55,10.23],[2.22,9.59],[3.39,9.76],[4.33,9.63],[4.18,9.52],[5.2,9.72],[5.56,9.62],[5.19,9.49],[5.78,9.51],[2.5,9.15],[3.28,9.22],[5.67,9.26],[5.86,9.16],[6.16,9.15],[6.3,9.19],[7,9.02],[3.06,8.91],[5.44,9],[5.52,8.96],[5.19,8.92],[5.66,8.82],[6.21,8.83],[6.75,8.85],[7.12,8.82],[7.45,8.79],[7.65,8.78],[4.55,8.72],[5.26,8.74],[5.83,8.71],[6.56,8.76],[7,8.73],[2.81,8.7],[3.17,8.74],[4.89,8.68],[4.99,8.62],[5.44,8.59],[6.66,8.66],[6.9,8.64],[3.93,8.56],[3.09,8.52],[3.73,8.52],[5.14,8.53],[7.5,8.55],[8.41,8.5],[2.47,8.49],[6.53,8.46],[7.2,8.46],[3.12,8.37],[2.79,8.37],[4.43,8.37],[7.54,8.4],[8.8,8.42],[8.21,8.4],[10.34,8.34],[5.27,8.35],[5.86,8.34],[6.36,8.35],[7.03,8.35],[4.77,8.24],[5.52,8.24],[6.61,8.24],[7.79,8.26],[8.41,8.24],[2.08,8.18],[3.41,8.16],[4.23,8.14],[6.11,8.13],[6.87,8.13],[8.12,8.13],[8.85,8.15],[5.1,8.09],[3.06,8.06],[3.56,8.04],[5.15,8.03],[7.37,8.02],[8.46,8.07],[9.1,8.04],[9.75,7.99],[4.94,7.94],[5.44,7.95],[6.06,7.93],[6.83,7.93],[7.34,7.93],[7.87,7.96],[8.71,7.89],[4.94,7.82],[7.7,7.8],[8.04,7.82],[3.43,7.76],[3.73,7.75],[6.28,7.76],[7.03,7.77],[4.85,7.72],[8.8,7.79],[10.05,7.77],[3.59,7.66],[5.69,7.67],[7.79,7.63],[9.63,7.64],[4.73,7.57],[5.36,7.6],[6.03,7.6],[6.61,7.59],[8.46,7.65],[8.96,7.58],[6.95,7.54],[7.2,7.5],[6.36,7.52],[8.29,7.54],[6.83,7.44],[7.84,7.46],[9.6,7.47],[8.8,7.34],[5.89,7.33],[6.33,7.34],[6.31,7.26],[7.91,7.26],[10,7.3],[9.35,7.18],[4.32,7.1],[5.64,7.11],[7.45,7.06],[8.01,7.07],[7.79,6.99],[8.29,7.05],[4.94,6.87],[5.14,6.79],[7.27,6.85],[2.89,6.78],[6.28,6.63]];
const sNeu=[[1.98,8.26],[2.58,8.29],[3.28,8.18],[7.24,8.49],[6.31,8.27],[5.2,8.04],[6.34,8.05],[7.11,8.07],[5.2,7.99],[5.68,7.99],[6.82,7.99],[3.21,7.96],[3.43,7.95],[4.33,7.98],[5.2,7.95],[4.93,7.92],[6.1,7.95],[7.72,7.92],[4.2,7.84],[4.77,7.81],[6.31,7.82],[5.22,7.79],[7.5,7.8],[6.05,7.78],[6.56,7.77],[3.09,7.75],[3.04,7.71],[4.43,7.72],[4.74,7.72],[5.34,7.7],[5.56,7.72],[5.93,7.75],[5.93,7.69],[7.67,7.67],[6.1,7.65],[3.41,7.63],[3.75,7.59],[5.76,7.61],[6.61,7.61],[7.07,7.62],[7.63,7.64],[8.11,7.64],[8.98,7.62],[5.88,7.58],[6.78,7.6],[7.8,7.62],[6.36,7.58],[4.88,7.58],[5.08,7.56],[8.2,7.55],[8.86,7.53],[2.24,7.5],[2.82,7.5],[3.04,7.55],[3.43,7.51],[5.34,7.51],[6.61,7.53],[5.85,7.49],[7.46,7.49],[7,7.5],[8.32,7.51],[2.8,7.46],[3.58,7.46],[4.25,7.45],[4.74,7.49],[5.42,7.48],[6.1,7.45],[6.53,7.48],[8.23,7.49],[8.83,7.45],[6.27,7.41],[7.05,7.41],[8.23,7.41],[5.59,7.4],[5.08,7.38],[8.45,7.38],[2.49,7.34],[3.74,7.33],[5.22,7.34],[7.63,7.36],[7.86,7.36],[9.17,7.32],[9.76,7.3],[10.32,7.3],[10.05,7.28],[3.41,7.28],[4.37,7.27],[6.02,7.32],[6.15,7.28],[5.2,7.28],[8.83,7.3],[9.63,7.27],[8.06,7.27],[3.94,7.23],[4.91,7.23],[5.76,7.23],[6.95,7.23],[9.08,7.23],[5,7.19],[5.64,7.19],[7.21,7.2],[7.8,7.18],[2.92,7.15],[5.51,7.15],[6.7,7.15],[8.49,7.15],[7.21,7.15],[6.19,7.11],[5.17,7.13],[5.54,7.1],[9.25,7.12],[4.77,7.08],[6.73,7.08],[8.03,7.09],[2.1,7.05],[2.53,7.1],[5,7.07],[6.22,7.04],[7.04,7.05],[8.33,7.05],[8.57,7.07],[7.74,7.01],[9.64,7],[9,7.01],[6.32,6.96],[6.65,6.97],[6.9,6.96],[8.4,6.96],[9.17,6.96],[8.83,6.97],[3.14,6.87],[5.63,6.86],[5.74,6.88],[6.61,6.85],[7.72,6.86],[7.89,6.87],[9.39,6.81],[7.06,6.79],[7.55,6.82],[8.37,6.77],[4.94,6.72],[5.93,6.77],[6.05,6.73],[7.89,6.71],[7.28,6.62],[7.77,6.57],[8.08,6.55],[5.15,6.49],[9.3,6.46]];
const sNk=[[2.89,6.97],[6.26,7.3],[5.63,6.22],[5.17,6.09],[2.55,5.94],[5.45,5.88],[4.34,5.64],[6.91,5.69],[6.05,5.62],[5.01,5.49],[2.5,5.46],[6.31,5.47],[5.82,5.43],[9.06,5.46],[3.4,5.43],[4.94,5.43],[2.23,5.39],[1.95,5.3],[3.04,5.36],[4.91,5.25],[5.51,5.29],[3.72,5.28],[4.18,5.27],[6.98,5.3],[6.16,5.27],[6.44,5.27],[4.31,5.19],[5.95,5.2],[7.32,5.19],[7.11,5.18],[6.67,5.16],[8.41,5.17],[5.4,5.14],[2.47,5.07],[4.86,5.11],[7.56,5.11],[5.19,5.06],[6.29,5.14],[6.99,5.06],[8.76,5.08],[9.63,5.06],[9.95,5.09],[4.88,5.03],[5.92,5],[3.28,5],[3.56,5.02],[3.77,4.97],[2.76,4.97],[5.56,4.97],[8.29,4.97],[9.14,4.94],[4.54,4.92],[6.94,4.92],[6.31,4.88],[7.32,4.89],[7.76,4.86],[8.03,4.86],[3.93,4.81],[4.78,4.8],[5.15,4.75],[6.05,4.84],[6.57,4.77],[7.06,4.81],[7.54,4.77],[3.4,4.75],[8.81,4.74],[8.41,4.77],[3.04,4.72],[5.56,4.69],[7.92,4.71],[10.31,4.69],[6.13,4.71],[6.7,4.69],[10.03,4.63],[9.63,4.62],[4.21,4.59],[4.7,4.59],[5.07,4.6],[5.8,4.61],[6.46,4.61],[7.51,4.6],[8.49,4.6],[2.78,4.57],[5.4,4.53],[6.89,4.53],[8.81,4.56],[3.11,4.5],[4.42,4.49],[4.88,4.49],[5.64,4.48],[6.62,4.49],[7.84,4.47],[8.57,4.49],[9.22,4.47],[5.15,4.39],[5.89,4.43],[6.41,4.4],[7.22,4.43],[7.59,4.38],[8.33,4.36],[9.14,4.36],[3.54,4.34],[5.56,4.34],[7.76,4.35],[2.08,4.31],[6.02,4.31],[6.63,4.29],[6.83,4.29],[8.73,4.29],[5.02,4.28],[5.56,4.25],[6.02,4.22],[4.75,4.2],[5.15,4.17],[7.8,4.2],[5.93,4.13],[7.22,4.13],[7.43,4.15],[6.62,4.1],[6.89,4.11],[7.11,4.07],[7.79,4.09],[3.43,4.04],[8.78,4.04],[4.67,4],[5.48,3.88],[7.84,3.87],[8.52,3.88],[5.84,3.78],[6.57,3.79]];
const lineFib=[[2,9.9],[10.35,11.13]],lineEnd=[[2,8.77],[10.35,7.64]],lineNeu=[[2,7.65],[10.35,7.09]],lineNk=[[2,5.06],[10.35,4.45]];
const ciFib=[[2,10.14],[3,10.2],[4,10.3],[5,10.42],[6,10.57],[7,10.72],[8,10.88],[9,11.05],[10.35,11.34],[10.35,10.9],[9,10.8],[8,10.68],[7,10.57],[6,10.42],[5,10.25],[4,10.07],[3,9.89],[2,9.68]];
const ciEnd=[[2,8.97],[3,8.78],[4,8.6],[5,8.43],[6,8.3],[7,8.17],[8,8.06],[9,7.95],[10.35,7.82],[10.35,7.47],[9,7.7],[8,7.88],[7,8.03],[6,8.16],[5,8.27],[4,8.36],[3,8.46],[2,8.57]];
const ciNeu=[[2,7.76],[3,7.66],[4,7.57],[5,7.49],[6,7.42],[7,7.36],[8,7.31],[9,7.25],[10.35,7.19],[10.35,7],[9,7.11],[8,7.2],[7,7.28],[6,7.34],[5,7.39],[4,7.44],[3,7.49],[2,7.54]];
const ciNk=[[2,5.21],[3,5.12],[4,5.03],[5,4.93],[6,4.83],[7,4.76],[8,4.69],[9,4.66],[10.35,4.62],[10.35,4.32],[9,4.45],[8,4.54],[7,4.63],[6,4.71],[5,4.78],[4,4.84],[3,4.88],[2,4.86]];
const rdFib=[[12.32,.02],[12.01,.08],[11.77,.14],[11.53,.22],[11.39,.36],[11.24,.55],[11.1,.68],[10.95,.87],[10.83,.97],[10.74,1],[10.62,.98],[10.52,.85],[10.38,.74],[10.23,.74],[10.09,.74],[9.94,.68],[9.8,.55],[9.65,.38],[9.51,.24],[9.36,.16],[9.12,.12],[8.88,.1],[8.64,.06],[8.37,.02]];
const rdEnd=[[10.24,.01],[9.96,.02],[9.74,.05],[9.52,.11],[9.3,.16],[9.12,.25],[8.95,.4],[8.77,.55],[8.59,.7],[8.42,.88],[8.2,1],[7.98,.97],[7.8,.9],[7.63,.7],[7.45,.5],[7.27,.3],[7.1,.18],[6.88,.1],[6.63,.01]];
const rdNeu=[[8.49,.02],[8.27,.03],[8.15,.06],[8.02,.14],[7.9,.2],[7.8,.26],[7.7,.45],[7.6,.66],[7.52,.87],[7.42,.98],[7.3,1],[7.2,1],[7.1,.97],[7,.68],[6.9,.5],[6.8,.32],[6.65,.14],[6.46,.03]];
const rdNk=[[7.31,0],[6.71,0],[6.06,.01],[5.72,.04],[5.5,.1],[5.33,.16],[5.12,.28],[4.94,.45],[4.77,.72],[4.64,.95],[4.58,1],[4.49,.96],[4.36,.7],[4.23,.42],[4.08,.2],[3.91,.08],[3.78,.02]];

/* ---------- helpers ---------- */
const FF='"Liberation Sans", Arial, sans-serif';
Chart.defaults.font.family=FF;Chart.defaults.color='#000';Chart.defaults.animation=false;Chart.defaults.events=[];
Chart.defaults.plugins.legend.display=false;Chart.defaults.plugins.tooltip.enabled=false;
const RED='rgba(188,60,41,',BLUE='rgba(0,114,181,';
const page=document.getElementById('page');
const noPad=s=>{s.paddingTop=s.paddingBottom=s.paddingLeft=s.paddingRight=0;};
function mount(p,m){const c=document.createElement('canvas');const W=p.r-p.l+m.L+m.R,H=p.b-p.t+m.T+m.B;c.width=W;c.height=H;c.style.cssText=`left:${p.l-m.L}px;top:${p.t-m.T}px;width:${W}px;height:${H}px`;page.appendChild(c);return c;}
const decor=(items,frame)=>({id:'decor',afterDraw(ch){const x=ch.ctx,c=ch.canvas,ox=parseFloat(c.style.left),oy=parseFloat(c.style.top);
  if(frame){const a=ch.chartArea;x.save();x.strokeStyle='#000';x.lineWidth=frame;x.strokeRect(a.left,a.top,a.right-a.left,a.bottom-a.top);x.restore();}
  for(const it of items||[]){x.save();let px,py;if(it.data){px=ch.scales.x.getPixelForValue(it.data[0]);py=ch.scales.y.getPixelForValue(it.data[1]);}else{px=it.page[0]-ox;py=it.page[1]-oy;}
    if(it.dot){x.fillStyle=it.dot;x.beginPath();x.arc(px,py,it.r,0,Math.PI*2);x.fill();}
    else{x.font=(it.weight?it.weight+' ':'')+it.size+'px '+FF;x.fillStyle=it.color||'#000';x.textAlign=it.align||'center';x.textBaseline='middle';x.fillText(it.t,px,py+(it.dy||0));}
    x.restore();}}});
function axis(o){return{type:'linear',position:o.position,min:o.min,max:o.max,display:true,
  afterBuildTicks:s=>{s.ticks=o.ticks.map(v=>({value:v}));},
  afterFit:s=>{noPad(s);if(s.isHorizontal())s.height=o.size;else s.width=o.size;},
  border:{display:true,color:'#000',width:o.line},
  grid:{drawOnChartArea:!!o.gridColor,color:o.gridColor||'transparent',lineWidth:o.gridWidth||1,drawTicks:true,tickLength:o.tickLen,tickColor:o.tickColor||'#000',tickWidth:o.tickW},
  ticks:{autoSkip:false,font:{size:o.font,style:o.style||'normal'},color:'#000',padding:o.pad,callback:o.label,maxRotation:o.rot||0,minRotation:o.rot||0,labelOffset:o.labelOffset||0},
  title:o.title?{display:true,text:o.title,font:{size:o.titleFont},color:'#000',padding:{top:o.titlePad,bottom:o.titlePad}}:{display:false}};}
const hiddenAxis=(min,max)=>({type:'linear',display:false,min,max});
const paint=ds=>ds.map((d,i)=>Object.assign(d,{order:-i,clip:false}));
const P=(arr,color,r)=>({data:arr,showLine:false,backgroundColor:color,borderWidth:0,pointRadius:r,pointBorderWidth:0,pointHoverRadius:r});
const L=(arr,w,color,t)=>({data:arr,showLine:true,fill:false,borderColor:color||'#000',borderWidth:w,pointRadius:0,tension:t||0,borderJoinStyle:'miter',borderCapStyle:'butt'});
const S=(arr,fill,w,color,t)=>({data:arr,showLine:true,fill:'shape',backgroundColor:fill,borderColor:color||'transparent',borderWidth:w||0,pointRadius:0,tension:t||0,borderJoinStyle:'round'});
const xy=a=>a.map(q=>({x:q[0],y:q[1]}));
function scatterChart(p,m,xs,ys,datasets,items,frame,hidden){const c=mount(p,m);
  const padding=hidden?{left:m.L,top:m.T,right:m.R,bottom:m.B}:{left:0,top:m.T,right:m.R,bottom:0};
  return new Chart(c,{type:'scatter',data:{datasets:paint(datasets)},options:{responsive:false,devicePixelRatio:1,layout:{padding,autoPadding:false},scales:{x:xs,y:ys}},plugins:[decor(items,frame)]});}

/* ---------- draw panel A ---------- */
(function(){const ds=[];const dod=.2;
  const mk=(cx,m,u,l)=>[L([{x:cx,y:l},{x:cx,y:u}],3),L([{x:cx-.078,y:u},{x:cx+.078,y:u}],3.5),L([{x:cx-.078,y:l},{x:cx+.078,y:l}],3.5),L([{x:cx-.127,y:m},{x:cx+.127,y:m}],4)];
  const items=[{t:'MCPCounter',page:[969,63],size:27}];
  cellTypes.forEach((n,i)=>{
    [[aHighCore,aHighDense,RED,-dod,0],[aLowCore,aLowDense,BLUE,dod,1]].forEach(([core,dense,col,off,side])=>{
      const pts=core[i].map((v,k)=>({x:i+off+aJitter[k%aJitter.length],y:v}));
      dense[i].forEach((v,k)=>pts.push({x:i+off+aJitter2[k%aJitter2.length],y:v}));
      aOutliers.filter(o=>o[0]===i&&o[1]===side).forEach(o=>pts.push({x:i+off+o[2],y:o[3]}));
      ds.push(P(pts,col+'.8)',4.7));});
    ds.push(...mk(i-dod,aHighMean[i],aHighUpper[i],aHighLower[i]),...mk(i+dod,aLowMean[i],aLowUpper[i],aLowLower[i]));
    ds.push(L([{x:i-dod,y:aBracketLeg[i]},{x:i-dod,y:aBracketTop[i]},{x:i+dod,y:aBracketTop[i]},{x:i+dod,y:aBracketLeg[i]}],2.5));
    items.push({t:aSig[i],data:[i,aBracketTop[i]],size:22,dy:aSig[i]==='ns'?-11:-3});
  });
  items.push({t:'CST1',page:[1827,223],size:34,weight:'bold',align:'left'},{dot:RED+'.8)',page:[1834,268],r:5},{t:'High',page:[1849,270],size:29,weight:'bold',align:'left'},{dot:BLUE+'.8)',page:[1834,316],r:5},{t:'Low',page:[1849,318],size:29,weight:'bold',align:'left'});
  scatterChart({l:128,t:82,r:1811,b:492},{L:128,T:42,R:133,B:235},
    axis({position:'bottom',min:-.6,max:9.6,ticks:[0,1,2,3,4,5,6,7,8,9],size:235,line:3,tickLen:8,tickW:3,font:24.5,style:'italic',pad:8,rot:45,labelOffset:8,label:v=>cellTypes[v],gridColor:'#ebebeb',gridWidth:3}),
    axis({position:'left',min:.77,max:13.22,ticks:aYTicks,size:128,line:3,tickLen:8,tickW:3,tickColor:c=>c.tick&&c.tick.value%2?'transparent':'#000',font:24,pad:8,labelOffset:1.5,label:v=>v%2?'':v,gridColor:'#ebebeb',gridWidth:c=>c.tick&&c.tick.value%2?2:3.5,title:'Abundance',titleFont:27.5,titlePad:40}),
    ds,items,3);
})();

/* ---------- draw panel B ---------- */
function violin(cx,o){const r=o.map(q=>({x:cx+q[1],y:q[0]}));const l=o.slice().reverse().map(q=>({x:cx-q[1],y:q[0]}));return r.concat(l,[r[0]]);}
function bPanel(p,xr,yr,yt,ylab,title,tCx,xCx,vh,vl,box,pth,ptl,br,titleCx){
  const ds=[];
  [[vh,RED,0,box[0],pth],[vl,BLUE,1,box[1],ptl]].forEach(([v,col,cx,b,pt])=>{
    ds.push(S(violin(cx,v),col+'.5)',2,'#000',.25));
    ds.push(L([{x:cx,y:b[3]},{x:cx,y:b[0]}],2));
    ds.push(L([{x:cx,y:b[2]},{x:cx,y:b[4]}],2));
    const h=.4;
    ds.push(S([{x:cx-h,y:b[0]},{x:cx+h,y:b[0]},{x:cx+h,y:b[2]},{x:cx-h,y:b[2]},{x:cx-h,y:b[0]}],col+'.65)',3,'#000'));
    ds.push(P(pt.map(q=>({x:cx+q[0],y:q[1]})),col+'.65)',5));
    ds.push(L([{x:cx-h,y:b[1]},{x:cx+h,y:b[1]}],6));
  });
  ds.push(L([{x:0,y:br[1]},{x:0,y:br[0]},{x:1,y:br[0]},{x:1,y:br[1]}],2.5));
  const items=[{t:title,page:[tCx,773],size:25},{t:'CST1',page:[xCx,1244],size:23.5},{t:'***',data:[.5,br[0]],size:20,dy:-5}];
  const LM=p.l-titleCx+16;
  scatterChart(p,{L:LM,T:40,R:8,B:90},
    axis({position:'bottom',min:xr[0],max:xr[1],ticks:[0,1],size:90,line:3,tickLen:8,tickW:3,font:23.5,pad:8,label:v=>groupLabels[v]}),
    axis({position:'left',min:yr[0],max:yr[1],ticks:yt,size:LM,line:3,tickLen:8,tickW:3,font:24,pad:8,labelOffset:1.5,label:ylab,title:'Abundance',titleFont:26,titlePad:0}),
    ds,items,0);
}
const i0=v=>v,f1=v=>v.toFixed(1);
const bFibTicks=[8,9,10,11,12],bNeuTicks=[6.5,7,7.5,8,8.5],bEndTicks=[7,8,9,10],bNkTicks=[4,5,6,7];
bPanel({l:87,t:792,r:475,b:1179},[-.6,1.556],[8,12.62],bFibTicks,i0,'Fibroblasts',290,284,vFibHigh,vFibLow,bxFib,ptFibHigh,ptFibLow,[12.44,12.34],19);
bPanel({l:568,t:792,r:951,b:1179},[-.595,1.563],[6.357,8.64],bNeuTicks,f1,'Neutrophils',762,762,vNeuHigh,vNeuLow,bxNeu,ptNeuHigh,ptNeuLow,[8.55,8.5],493);
bPanel({l:1037,t:792,r:1425,b:1179},[-.597,1.557],[6.445,10.515],bEndTicks,i0,'Endothelial_cells',1234,1234,vEndHigh,vEndLow,bxEnd,ptEndHigh,ptEndLow,[10.35,10.26],970);
bPanel({l:1498,t:792,r:1906,b:1179},[-.591,1.591],[3.6,7.575],bNkTicks,i0,'NK_cells',1702,1701,vNkHigh,vNkLow,bxNk,ptNkHigh,ptNkLow,[7.41,7.32],1443);

/* ---------- draw heatmap ---------- */
function heatColor(v){v=Math.max(-1,Math.min(1,v));let i=0;while(i<rampValues.length-2&&v>rampValues[i+1])i++;const t=(v-rampValues[i])/(rampValues[i+1]-rampValues[i]);const a=rampColors[i],b=rampColors[i+1];return`rgb(${a.map((c,k)=>Math.round(c+(b[k]-c)*t)).join(',')})`;}
(function(){const p={l:220,t:1455,r:1007,b:2210},m={L:220,T:180,R:40,B:4};const c=mount(p,m);
  const cellText={id:'cellText',afterDatasetsDraw(ch){const x=ch.ctx;x.save();x.font='17px '+FF;x.fillStyle='#111';x.textAlign='center';x.textBaseline='middle';
    corr.forEach((row,r)=>row.forEach((v,k)=>{x.fillText(String(v),ch.scales.x.getPixelForValue(k),ch.scales.y.getPixelForValue(r+.5)+1);}));x.restore();}};
  new Chart(c,{type:'bar',data:{labels:heatLabels,datasets:heatLabels.map((n,r)=>({label:n,data:corr[r].map(()=>[r,r+1]),backgroundColor:corr[r].map(heatColor),borderColor:'#fff',borderWidth:1,borderSkipped:false,grouped:false,barPercentage:1,categoryPercentage:1,inflateAmount:0}))},
   options:{responsive:false,devicePixelRatio:1,layout:{autoPadding:false,padding:{right:m.R,bottom:m.B,left:0,top:0}},
    scales:{x:{type:'category',position:'top',offset:true,afterFit:s=>{noPad(s);s.height=m.T;},border:{display:false},grid:{display:false,drawTicks:false},ticks:{autoSkip:false,minRotation:45,maxRotation:45,font:{size:20.5},color:'#000',padding:5,labelOffset:13}},
     y:{type:'linear',reverse:true,min:0,max:11,position:'left',afterBuildTicks:s=>{s.ticks=heatLabels.map((_,i)=>({value:i+.5}));},afterFit:s=>{noPad(s);s.width=m.L;},border:{display:false},grid:{display:false,drawTicks:false},ticks:{autoSkip:false,font:{size:20},color:'#000',padding:9,labelOffset:1,callback:v=>heatLabels[Math.round(v-.5)]}}}},plugins:[cellText]});
})();
/* colour bar */
(function(){const p={l:1021,t:1723,r:1044,b:1911},m={L:4,T:30,R:85,B:4};const c=mount(p,m);
  const tickMarks={id:'tm',afterDatasetsDraw(ch){const x=ch.ctx,a=ch.chartArea;x.save();x.strokeStyle='#fff';x.lineWidth=1;legendTicks.forEach(v=>{const y=ch.scales.y.getPixelForValue(v);x.beginPath();x.moveTo(a.left,y);x.lineTo(a.left+4.6,y);x.moveTo(a.right-4.6,y);x.lineTo(a.right,y);x.stroke();});x.restore();}};
  new Chart(c,{type:'bar',data:{labels:[''],datasets:legendLevels.map(v=>({data:[[v,v+.05]],backgroundColor:heatColor(v+.025),borderWidth:0,grouped:false,barPercentage:1,categoryPercentage:1,inflateAmount:.4}))},
   options:{responsive:false,devicePixelRatio:1,layout:{autoPadding:false,padding:{left:m.L,top:m.T,bottom:m.B,right:0}},
    scales:{x:{type:'category',display:false,offset:true},y:{type:'linear',position:'right',min:-1.098,max:1.093,afterBuildTicks:s=>{s.ticks=legendTicks.map(v=>({value:v}));},afterFit:s=>{noPad(s);s.width=m.R;},border:{display:false},grid:{display:false,drawTicks:false},ticks:{autoSkip:false,font:{size:17},color:'#000',padding:8,callback:v=>v.toFixed(1)}}}},
   plugins:[tickMarks,decor([{t:'Correlation',page:[1020,1708],size:20,align:'left'}])]});
})();

/* ---------- draw scatter panels ---------- */
function scatterPanel(o){
  const m={L:o.l-o.titleCx+14,T:6,R:8,B:62};const p={l:o.l,t:o.t,r:o.r,b:o.b};
  const ds=[P(xy(o.pts),o.point,5.6),S(xy(o.ci),'rgba(120,120,120,.38)'),L(xy(o.line),3)];
  const items=o.lab.map((t,i)=>({t,page:[o.labR,o.labY[i]],size:18,color:'#F02A2A',align:'right'}));
  scatterChart(p,m,
    axis({position:'bottom',min:o.xr[0],max:o.xr[1],ticks:[2,4,6,8,10],size:m.B,line:2.5,tickLen:6,tickW:2.5,font:18,pad:4,label:i0,title:'CST1',titleFont:20,titlePad:2}),
    axis({position:'left',min:o.yr[0],max:o.yr[1],ticks:o.yt,size:m.L,line:2.5,tickLen:6,tickW:2.5,font:18,pad:5,labelOffset:1,label:o.yl,title:o.title,titleFont:20.5,titlePad:2}),
    ds,items,0);
  /* marginal on top */
  const tp={l:o.l,t:o.t-51,r:o.r,b:o.t};
  scatterChart(tp,{L:0,T:3,R:0,B:0},hiddenAxis(o.xr[0],o.xr[1]),hiddenAxis(0,1.02),
    [S([{x:densX[0],y:0}].concat(densX.map((x,i)=>({x,y:densCST1[i]})),[{x:densX[densX.length-1],y:0},{x:densX[0],y:0}]),o.dens),L(densX.map((x,i)=>({x,y:densCST1[i]})),2,'#000',.35)],[],0,true);
  /* marginal on right */
  const rp={l:o.rl,t:o.t,r:o.rl+o.rw,b:o.b};const rd=o.rd;
  scatterChart(rp,{L:2,T:0,R:3,B:0},hiddenAxis(0,1),hiddenAxis(o.yr[0],o.yr[1]),
    [S([{x:0,y:rd[0][0]}].concat(rd.map(q=>({x:q[1],y:q[0]})),[{x:0,y:rd[rd.length-1][0]},{x:0,y:rd[0][0]}]),o.dens),L(rd.map(q=>({x:q[1],y:q[0]})),2,'#000',.35)],[],0,true);
}
scatterPanel({l:1177,t:1451,r:1465,b:1740,xr:[1.726,10.594],yr:[8.26,12.43],yt:[9,10,11,12],yl:i0,title:'Fibroblasts',titleCx:1121,pts:sFib,ci:ciFib,line:lineFib,point:'rgba(233,163,93,.85)',dens:'#F0B97E',rl:1466,rw:50,rd:rdFib,lab:['Pearson','r = 0.366','P < 0.001'],labR:1456,labY:[1675,1701,1727]});
scatterPanel({l:1593,t:1451,r:1881,b:1740,xr:[1.723,10.59],yr:[6.524,10.344],yt:[7,8,9,10],yl:i0,title:'Endothelial_cells',titleCx:1537,pts:sEnd,ci:ciEnd,line:lineEnd,point:'rgba(95,191,168,.85)',dens:'#85CFBE',rl:1882,rw:50,rd:rdEnd,lab:['Pearson','r = -0.392','P < 0.001'],labR:1873,labY:[1675,1701,1727]});
scatterPanel({l:1182,t:1889,r:1465,b:2178,xr:[1.75,10.59],yr:[6.403,8.55],yt:[6.5,7,7.5,8,8.5],yl:f1,title:'Neutrophils',titleCx:1121,pts:sNeu,ci:ciNeu,line:lineNeu,point:'rgba(189,185,220,.85)',dens:'#C9C7E2',rl:1466,rw:50,rd:rdNeu,lab:['Pearson','r = -0.353','P < 0.001'],labR:1457,labY:[2113,2139,2164]});
scatterPanel({l:1593,t:1889,r:1888,b:2178,xr:[1.716,10.54],yr:[3.68,7.41],yt:[4,5,6,7],yl:i0,title:'NK_cells',titleCx:1547,pts:sNk,ci:ciNk,line:lineNk,point:'rgba(127,178,212,.85)',dens:'#96C0DB',rl:1890,rw:51,rd:rdNk,lab:['Pearson','r = -0.287','P < 0.001'],labR:1880,labY:[2113,2139,2164]});
</script></body></html>
